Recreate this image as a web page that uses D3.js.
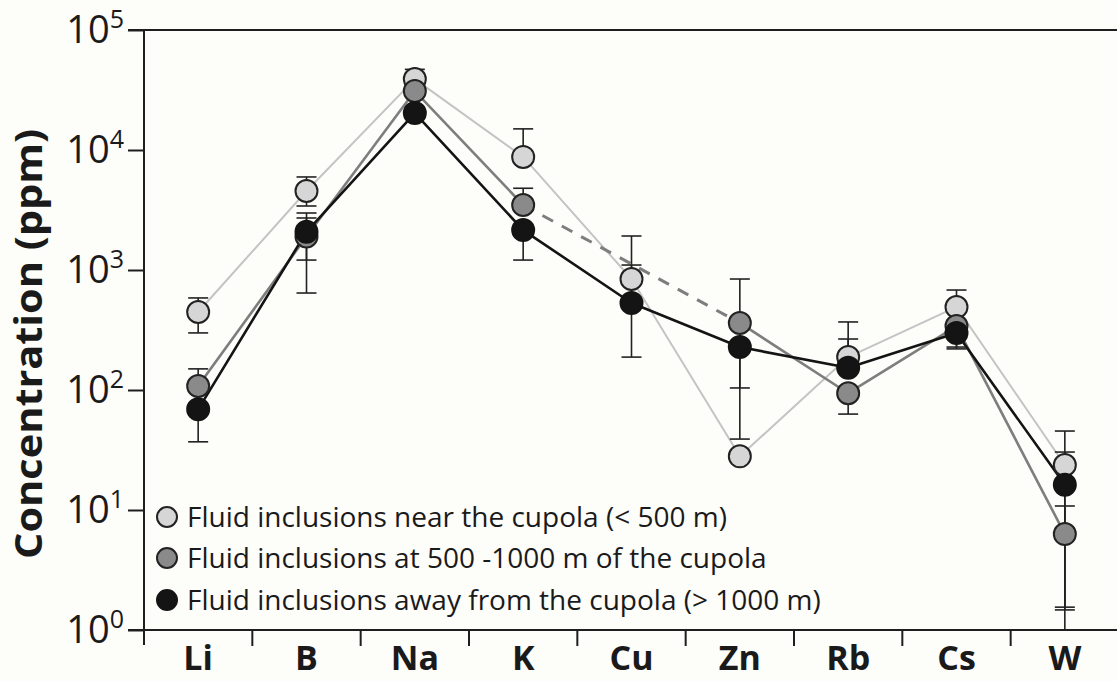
<!DOCTYPE html>
<html>
<head>
<meta charset="utf-8">
<script src="https://cdn.jsdelivr.net/npm/d3@7"></script>
<style>
  html, body { margin: 0; padding: 0; background: #fdfdfa; }
  svg { display: block; }
  text { font-family: "Open Sans", "Noto Sans", sans-serif; fill: #1a1a1a; }
</style>
</head>
<body>
<svg id="chart" width="1117" height="681"></svg>
<script>
// Elements analysed in the fluid inclusions
const elements = ["Li", "B", "Na", "K", "Cu", "Zn", "Rb", "Cs", "W"];

// Mean concentrations (ppm); null = not determined
const nearCupola = [447, 4550, 39000, 8760, 841, 28, 188, 492, 23.7];
const midCupola  = [108, 1900, 31000, 3480, null, 362, 94, 341, 6.3];
const farCupola  = [69, 2080, 20300, 2150, 531, 228, 153, 299, 16.2];

// Error bar limits (ppm); null = no bar on that side
const nearLow  = [299, 3415, null, null, null, null, null, null, 1.55];
const nearHigh = [585, 5960, 47000, 15000, 1920, null, 369, 681, 45.5];
const midLow   = [null, 1210, null, null, null, 39, 63, 228, 0.8];
const midHigh  = [150, 2985, null, 4800, null, 841, null, null, 10.8];
const farLow   = [37, 643, null, 1210, 188, 104, null, 220, 1.47];
const farHigh  = [null, 2713, null, null, 1100, null, 266, null, 30.4];

// Axis ticks
const yTicks = [1, 10, 100, 1000, 10000, 100000];
const yTickExp = ["0", "1", "2", "3", "4", "5"];

const legendLabels = [
  "Fluid inclusions near the cupola (< 500 m)",
  "Fluid inclusions at 500 -1000 m of the cupola",
  "Fluid inclusions away from the cupola (> 1000 m)"
];

const series = [
  { values: nearCupola, low: nearLow, high: nearHigh, fill: "#d6d6d6", stroke: "#222", line: "#c4c4c4", lw: 2 },
  { values: midCupola,  low: midLow,  high: midHigh,  fill: "#8a8a8a", stroke: "#222", line: "#7e7e7e", lw: 2.6 },
  { values: farCupola,  low: farLow,  high: farHigh,  fill: "#141414", stroke: "#141414", line: "#141414", lw: 2.6 }
];

const svg = d3.select("#chart");
const plotLeft = 144, plotRight = 1119, plotTop = 30, plotBottom = 630;

const x = d3.scaleBand().domain(elements).range([plotLeft, plotRight]);
const y = d3.scaleLog().domain([1, 1e5]).range([plotBottom, plotTop]);
const cx = e => x(e) + x.bandwidth() / 2;
const clampY = v => y(Math.max(1, Math.min(1e5, v)));

// Frame lines
const axisColor = "#1e1e1e";
svg.append("line").attr("x1", 128).attr("x2", 1117).attr("y1", y(1e5)).attr("y2", y(1e5))
  .attr("stroke", axisColor).attr("stroke-width", 2);
svg.append("line").attr("x1", 128).attr("x2", 1117).attr("y1", y(1)).attr("y2", y(1))
  .attr("stroke", axisColor).attr("stroke-width", 2);
svg.append("line").attr("x1", plotLeft).attr("x2", plotLeft).attr("y1", y(1e5)).attr("y2", y(1) + 15)
  .attr("stroke", axisColor).attr("stroke-width", 2);

// Y axis ticks and labels
const yAxis = d3.axisLeft(y).tickValues(yTicks).tickSize(16).tickFormat("");
const yg = svg.append("g").attr("transform", `translate(${plotLeft},0)`).call(yAxis);
yg.select(".domain").remove();
yg.selectAll(".tick line").attr("stroke", axisColor).attr("stroke-width", 2);
yTicks.forEach((t, i) => {
  const txt = svg.append("text")
    .attr("x", 124).attr("y", y(t) + 13)
    .attr("text-anchor", "end")
    .attr("font-size", 38);
  txt.append("tspan").text("10");
  txt.append("tspan").attr("dy", -15).attr("font-size", 25).text(yTickExp[i]);
});

// X axis: category labels, ticks at category boundaries
const xAxis = d3.axisBottom(x).tickSize(0).tickPadding(0);
const xg = svg.append("g").attr("transform", `translate(0,${plotBottom})`).call(xAxis);
xg.select(".domain").remove();
xg.selectAll(".tick text")
  .attr("y", 40).attr("dy", null)
  .attr("font-size", 34).attr("font-weight", 700)
  .style("font-family", "'Open Sans', sans-serif").attr("fill", "#1a1a1a");
svg.append("g").selectAll("line")
  .data(elements.slice(1))
  .join("line")
  .attr("x1", d => x(d)).attr("x2", d => x(d))
  .attr("y1", plotBottom).attr("y2", plotBottom + 16)
  .attr("stroke", axisColor).attr("stroke-width", 2);

// Y axis title
svg.append("text")
  .attr("transform", `translate(42,344) rotate(-90)`)
  .attr("text-anchor", "middle")
  .attr("font-size", 37).attr("font-weight", 700)
  .attr("textLength", 430).attr("lengthAdjust", "spacingAndGlyphs")
  .text("Concentration (ppm)");

// Connecting lines
const lineGen = d3.line()
  .defined(d => d.v != null)
  .x(d => cx(d.e)).y(d => y(d.v));

series.forEach(s => {
  const pts = elements.map((e, i) => ({ e, v: s.values[i] }));
  svg.append("path")
    .datum(pts)
    .attr("d", lineGen)
    .attr("fill", "none")
    .attr("stroke", s.line)
    .attr("stroke-width", s.lw)
    .attr("stroke-linejoin", "round");
  // bridge over missing values with a dashed segment
  pts.forEach((p, i) => {
    if (p.v == null && i > 0 && i < pts.length - 1) {
      const a = pts[i - 1], b = pts[i + 1];
      if (a.v != null && b.v != null) {
        svg.append("line")
          .attr("x1", cx(a.e)).attr("y1", y(a.v))
          .attr("x2", cx(b.e)).attr("y2", y(b.v))
          .attr("stroke", s.line).attr("stroke-width", 3)
          .attr("stroke-dasharray", "12,10");
      }
    }
  });
});

// Error bars
const capHalf = 10;
const eg = svg.append("g").attr("stroke", "#222").attr("stroke-width", 1.6);
series.forEach(s => {
  elements.forEach((e, i) => {
    const v = s.values[i];
    const xc = cx(e);
    [s.low[i], s.high[i]].forEach(lim => {
      if (lim == null) return;
      const base = v != null ? y(v) : y(lim);
      const yl = clampY(lim);
      eg.append("line").attr("x1", xc).attr("x2", xc).attr("y1", base).attr("y2", yl);
      if (lim >= 1 && lim <= 1e5) {
        eg.append("line").attr("x1", xc - capHalf).attr("x2", xc + capHalf).attr("y1", yl).attr("y2", yl);
      }
    });
  });
});

// Markers
series.forEach(s => {
  svg.append("g").selectAll("circle")
    .data(elements.map((e, i) => ({ e, v: s.values[i] })).filter(d => d.v != null))
    .join("circle")
    .attr("cx", d => cx(d.e)).attr("cy", d => y(d.v))
    .attr("r", 11)
    .attr("fill", s.fill)
    .attr("stroke", s.stroke)
    .attr("stroke-width", 2);
});

// Legend
const lg = svg.append("g");
const rowY = [517, 558, 600];
series.forEach((s, i) => {
  lg.append("circle").attr("cx", 167).attr("cy", rowY[i]).attr("r", 10)
    .attr("fill", s.fill).attr("stroke", s.stroke).attr("stroke-width", 2);
  lg.append("text").attr("x", 187).attr("y", rowY[i] + 10)
    .attr("font-size", 28)
    .attr("fill", "#222")
    .text(legendLabels[i]);
});
</script>
</body>
</html>
